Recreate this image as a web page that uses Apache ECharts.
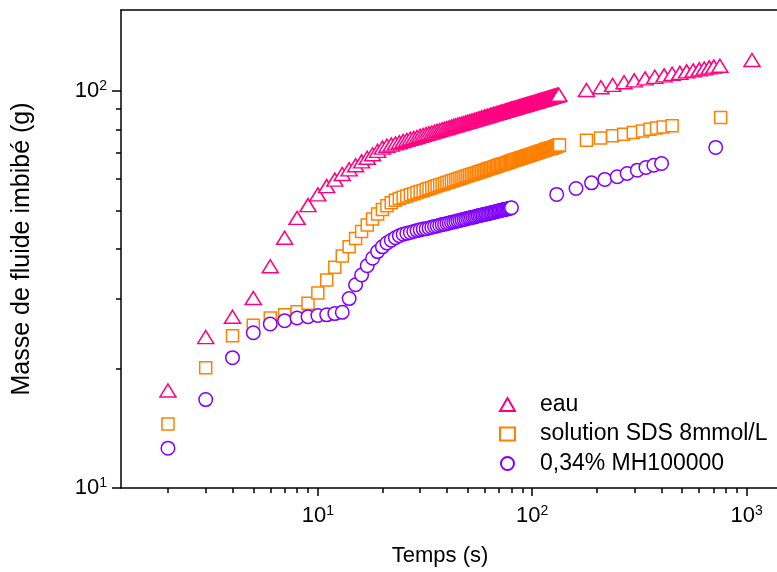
<!DOCTYPE html>
<html><head><meta charset="utf-8">
<script src="https://cdn.jsdelivr.net/npm/echarts@6/dist/echarts.min.js"></script>
<style>html,body{margin:0;padding:0;background:#fff}#c{width:777px;height:572px}</style>
</head><body><div id="c"></div>
<script>
const FONT = "'Liberation Sans', Arial, Helvetica, sans-serif";

// axis ranges and tick values
const xMin = 1.208, xMax = 1385, yMin = 10, yMax = 160;
const xMajorTicks = [10, 100, 1000];
const xMinorTicks = [2,3,4,5,6,7,8,9,20,30,40,50,60,70,80,90,200,300,400,500,600,700,800,900];
const yMajorTicks = [10, 100];
const yMinorTicks = [20,30,40,50,60,70,80,90];

const seriesNames = ['eau', 'solution SDS 8mmol/L', '0,34% MH100000'];

// eau (triangles)
const timeEau = [2,3,4,5,6,7,8,9,10,
11,12,13,14,15,16,17,18,19,20,21,22,23,24,25,26,27,28,29,30,
31,32,33,34,35,36,37,38,39,40,41,42,43,44,45,46,47,48,49,50,
51,52,53,54,55,56,57,58,59,60,61,62,63,64,65,66,67,68,69,70,
71,72,73,74,75,76,77,78,79,80,81,82,83,84,85,86,87,88,89,90,
91,92,93,94,95,96,97,98,99,100,101,102,103,104,105,106,107,108,109,110,
111,112,113,114,115,116,117,118,119,120,121,122,123,124,125,126,127,128,129,130,131,132,133,
179,209,237,268,299,336,373,412,449,488,525,563,601,634,669,703,750,1059];
const massEau = [17.6,24.0,27.0,30.1,36.2,42.7,47.9,51.6,54.9,
57.6,59.8,61.8,63.5,65.0,66.5,67.9,69.3,70.7,72.0,
72.8,73.3,73.8,74.3,74.8,75.3,75.8,76.2,76.6,77.1,
77.5,77.9,78.3,78.6,79.0,79.4,79.7,80.1,80.4,80.7,
81.0,81.4,81.7,82.0,82.3,82.6,82.8,83.1,83.4,83.7,
83.9,84.2,84.4,84.7,84.9,85.2,85.4,85.7,85.9,86.2,
86.4,86.6,86.8,87.1,87.3,87.5,87.7,87.9,88.1,88.3,
88.5,88.7,88.9,89.1,89.3,89.5,89.7,89.9,90.1,90.3,
90.4,90.6,90.8,91.0,91.1,91.3,91.5,91.6,91.8,92.0,
92.1,92.3,92.4,92.6,92.8,92.9,93.1,93.2,93.4,93.6,
93.7,93.8,94.0,94.1,94.3,94.4,94.6,94.7,94.9,95.0,
95.1,95.3,95.4,95.5,95.7,95.8,95.9,96.1,96.2,96.3,
96.5,96.6,96.7,96.8,97.0,97.1,97.2,97.3,97.5,97.6,97.7,97.8,97.9,
100.6,102.2,103.6,105.2,106.4,107.6,108.6,109.5,110.5,111.1,112.1,112.7,113.4,114.0,114.7,115.2,115.8,119.7];

// solution SDS 8mmol/L (squares)
const timeSDS = [2,3,4,5,6,7,8,9,10,
11,12,13,14,15,16,17,18,19,20,21,22,23,24,25,26,27,28,29,30,
31,32,33,34,35,36,37,38,39,40,41,42,43,44,45,46,47,48,49,50,
51,52,53,54,55,56,57,58,59,60,61,62,63,64,65,66,67,68,69,70,
71,72,73,74,75,76,77,78,79,80,81,82,83,84,85,86,87,88,89,90,
91,92,93,94,95,96,97,98,99,100,101,102,103,104,105,106,107,108,109,110,
111,112,113,114,115,116,117,118,119,120,121,122,123,124,125,126,127,128,129,130,131,132,133,134,
179,208,237,267,296,327,354,380,408,449,756];
const massSDS = [14.5,20.1,24.2,25.7,26.8,27.3,27.8,29.2,31.0,
33.4,36.0,38.4,40.5,42.5,44.3,46.0,47.6,49.0,50.3,
51.4,52.3,53.1,53.6,54.0,54.4,54.8,55.1,55.5,55.8,
56.1,56.5,56.8,57.1,57.4,57.7,58.0,58.2,58.5,58.8,
59.0,59.3,59.5,59.8,60.0,60.3,60.5,60.7,61.0,61.2,
61.4,61.6,61.8,62.0,62.2,62.4,62.6,62.8,63.0,63.2,
63.4,63.6,63.8,63.9,64.1,64.3,64.5,64.6,64.8,65.0,
65.2,65.3,65.5,65.6,65.8,66.0,66.1,66.3,66.4,66.6,
66.7,66.9,67.0,67.2,67.3,67.4,67.6,67.7,67.9,68.0,
68.1,68.3,68.4,68.5,68.7,68.8,68.9,69.0,69.2,69.3,
69.4,69.5,69.7,69.8,69.9,70.0,70.1,70.3,70.4,70.5,
70.6,70.7,70.8,70.9,71.1,71.2,71.3,71.4,71.5,71.6,
71.7,71.8,71.9,72.0,72.1,72.2,72.3,72.4,72.5,72.7,72.8,72.9,73.0,73.1,
75.2,76.2,77.1,77.8,78.6,79.3,80.1,80.7,81.2,81.7,85.8];

// 0,34% MH100000 (circles)
const timeMH = [2,3,4,5,6,7,8,9,10,
11,12,13,14,15,16,17,18,19,20,21,22,23,24,25,26,27,28,29,30,
31,32,33,34,35,36,37,38,39,40,41,42,43,44,45,46,47,48,49,50,
51,52,53,54,55,56,57,58,59,60,61,62,63,64,65,66,67,68,69,70,
71,72,73,74,75,76,77,78,79,80,
130,160,189,218,249,277,309,339,369,401,717];
const massMH = [12.6,16.7,21.3,24.6,25.9,26.4,26.8,27.0,27.2,
27.3,27.5,27.7,30.0,32.5,34.4,36.3,37.9,39.4,40.5,
41.4,42.1,42.7,43.2,43.6,43.8,44.0,44.3,44.5,44.7,
44.9,45.0,45.2,45.4,45.6,45.7,45.9,46.1,46.2,46.4,
46.5,46.7,46.8,46.9,47.1,47.2,47.4,47.5,47.6,47.8,
47.9,48.0,48.1,48.2,48.4,48.5,48.6,48.7,48.8,48.9,
49.0,49.1,49.2,49.3,49.4,49.5,49.6,49.7,49.8,49.9,
50.0,50.1,50.2,50.3,50.4,50.4,50.5,50.6,50.7,50.8,
54.9,56.8,58.7,59.9,60.8,62.0,63.2,64.2,65.0,65.7,72.1];

function pairs(t, m) { return t.map((v, i) => [v, m[i]]); }
function powLabel(v) { const e = Math.round(Math.log10(v)); return '{b|10}{s|' + e + '}'; }
const richLab = {
  b: { fontFamily: FONT, fontSize: 22, color: '#000', lineHeight: 24 },
  s: { fontFamily: FONT, fontSize: 14, color: '#000', lineHeight: 13, verticalAlign: 'top' }
};
const black = { color: '#000', width: 1.5 };

const chart = echarts.init(document.getElementById('c'), null, { renderer: 'canvas' });
chart.setOption({
  animation: false,
  backgroundColor: '#fff',
  grid: { left: 121, right: 0, top: 10, bottom: 84 },
  legend: {
    orient: 'vertical', left: 494, top: 388, itemWidth: 15, itemHeight: 13, itemGap: 6.5,
    selectedMode: false, data: seriesNames,
    textStyle: { fontFamily: FONT, fontSize: 23, color: '#000', lineHeight: 23, padding: [0, 0, 0, 20] }
  },
  xAxis: [
    { type: 'log', min: xMin, max: xMax, position: 'bottom',
      name: 'Temps (s)', nameLocation: 'middle', nameGap: 57,
      nameTextStyle: { fontFamily: FONT, fontSize: 22, color: '#000', padding: [0, 18, 0, 0] },
      axisLine: { lineStyle: black },
      axisTick: { customValues: xMajorTicks, length: 8, lineStyle: black },
      axisLabel: { customValues: xMajorTicks, formatter: powLabel, margin: 16, rich: richLab },
      splitLine: { show: false } },
    { type: 'log', min: xMin, max: xMax, position: 'bottom',
      axisLine: { show: false },
      axisTick: { customValues: xMinorTicks, length: 5, lineStyle: black },
      axisLabel: { show: false }, splitLine: { show: false } },
    { type: 'log', min: xMin, max: xMax, position: 'top',
      axisLine: { lineStyle: black }, axisTick: { show: false },
      axisLabel: { show: false }, splitLine: { show: false } }
  ],
  yAxis: [
    { type: 'log', min: yMin, max: yMax, position: 'left',
      name: 'Masse de fluide imbibé (g)', nameLocation: 'middle', nameGap: 86,
      nameTextStyle: { fontFamily: FONT, fontSize: 25, color: '#000' },
      axisLine: { lineStyle: black },
      axisTick: { customValues: yMajorTicks, length: 9, lineStyle: black },
      axisLabel: { customValues: yMajorTicks, formatter: powLabel, margin: 14, rich: richLab },
      splitLine: { show: false } },
    { type: 'log', min: yMin, max: yMax, position: 'left',
      axisLine: { show: false },
      axisTick: { customValues: yMinorTicks, length: 5, lineStyle: black },
      axisLabel: { show: false }, splitLine: { show: false } }
  ],
  series: [
    { name: seriesNames[0], type: 'scatter', xAxisIndex: 0, yAxisIndex: 0,
      symbol: 'triangle', symbolSize: [16, 13], data: pairs(timeEau, massEau),
      itemStyle: { color: '#fff', borderColor: '#FF0080', borderWidth: 1.5, opacity: 1 }, silent: true },
    { name: seriesNames[1], type: 'scatter', xAxisIndex: 0, yAxisIndex: 0,
      symbol: 'rect', symbolSize: 12, data: pairs(timeSDS, massSDS),
      itemStyle: { color: '#fff', borderColor: '#FF8000', borderWidth: 1.5, opacity: 1 }, silent: true },
    { name: seriesNames[2], type: 'scatter', xAxisIndex: 0, yAxisIndex: 0,
      symbol: 'circle', symbolSize: 13.5, data: pairs(timeMH, massMH),
      itemStyle: { color: '#fff', borderColor: '#8000FF', borderWidth: 1.5, opacity: 1 }, silent: true }
  ]
});
</script></body></html>
